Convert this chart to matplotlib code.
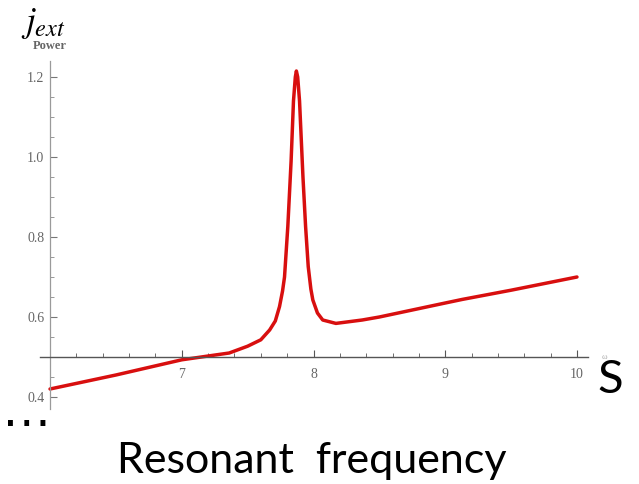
import matplotlib
matplotlib.use('Agg')
import matplotlib.pyplot as plt
from matplotlib.ticker import MultipleLocator, FixedLocator
import numpy as np

# values
freq  = [6.0, 6.5, 7.0, 7.36, 7.5, 7.6, 7.667, 7.71, 7.742, 7.765, 7.78,
         7.805, 7.83, 7.848, 7.862, 7.87, 7.88, 7.894, 7.92, 7.94, 7.96,
         7.98, 7.995, 8.03, 8.07, 8.17, 8.37, 8.5, 9.0, 9.13, 9.5, 10.0]
power = [0.42, 0.455, 0.493, 0.51, 0.527, 0.543, 0.5675, 0.59, 0.626, 0.665,
         0.70, 0.826, 0.99, 1.14, 1.20, 1.215, 1.20, 1.14, 0.95, 0.826, 0.726,
         0.67, 0.6425, 0.61, 0.5925, 0.584, 0.5925, 0.600, 0.635, 0.644,
         0.667, 0.70]

x_major = [7, 8, 9, 10]
y_major = [0.4, 0.6, 0.8, 1.0, 1.2]

plt.rcParams['mathtext.fontset'] = 'stix'

fig = plt.figure(figsize=(6.39, 4.84), dpi=100)
ax = fig.add_axes([39.5 / 639, 75 / 484, 548 / 639, 348 / 484])

ax.plot(freq, power, color='#d80f0f', lw=2.5, solid_capstyle='round',
        solid_joinstyle='round')
ax.set_xlim(5.92, 10.08)
ax.set_ylim(0.37, 1.24)

# mathematica style axes crossing at (6, 0.5)
for s in ['top', 'right']:
  ax.spines[s].set_visible(False)
ax.spines['left'].set_position(('data', 6))
ax.spines['bottom'].set_position(('data', 0.5))
ax.spines['left'].set_color('#9a9a9a')
ax.spines['bottom'].set_color('#555555')
ax.spines['left'].set_linewidth(0.9)
ax.spines['bottom'].set_linewidth(1.0)

ax.xaxis.set_major_locator(FixedLocator(x_major))
ax.xaxis.set_minor_locator(MultipleLocator(0.2))
ax.yaxis.set_major_locator(FixedLocator(y_major))
ax.yaxis.set_minor_locator(MultipleLocator(0.05))
ax.set_xticklabels([str(v) for v in x_major])
ax.set_yticklabels(['%.1f' % v for v in y_major])

ax.tick_params(axis='x', which='major', direction='in', length=5, width=0.8,
               color='#555555', labelsize=10, labelcolor='#666666', pad=8)
ax.tick_params(axis='x', which='minor', direction='in', length=3, width=0.6,
               color='#555555')
ax.tick_params(axis='y', which='major', direction='in', length=5, width=0.8,
               color='#777777', labelsize=10, labelcolor='#666666', pad=4)
ax.tick_params(axis='y', which='minor', direction='in', length=3, width=0.6,
               color='#888888')
for lab in ax.get_xticklabels() + ax.get_yticklabels():
  lab.set_family('Liberation Serif')

# axis captions of the original plot
fig.text(50 / 639, 1 - 46 / 484, 'Power', family='Liberation Serif',
         fontsize=9, color='#666666', ha='center', va='center', weight='bold')
fig.text(604 / 639, 1 - 357 / 484, 'ω', family='Liberation Serif',
         fontsize=6, color='#aaaaaa', ha='center', va='center')

# overlay annotations
fig.text(21 / 639, 1 - 32 / 484, r'$j_{ext}$', fontsize=25, color='black',
         ha='left', va='baseline')
fig.text(597 / 639, 1 - 393 / 484, 'S', family='Lato', fontsize=34,
         color='black', ha='left', va='baseline')
fig.text(1 / 639, 1 - 426 / 484, '…', family='Liberation Sans', fontsize=37,
         color='black', ha='left', va='baseline')
fig.text(312 / 639, 1 - 473 / 484, 'Resonant  frequency', family='Lato',
         fontsize=31, color='black', ha='center', va='baseline')

fig.savefig('out.png', dpi=100)
